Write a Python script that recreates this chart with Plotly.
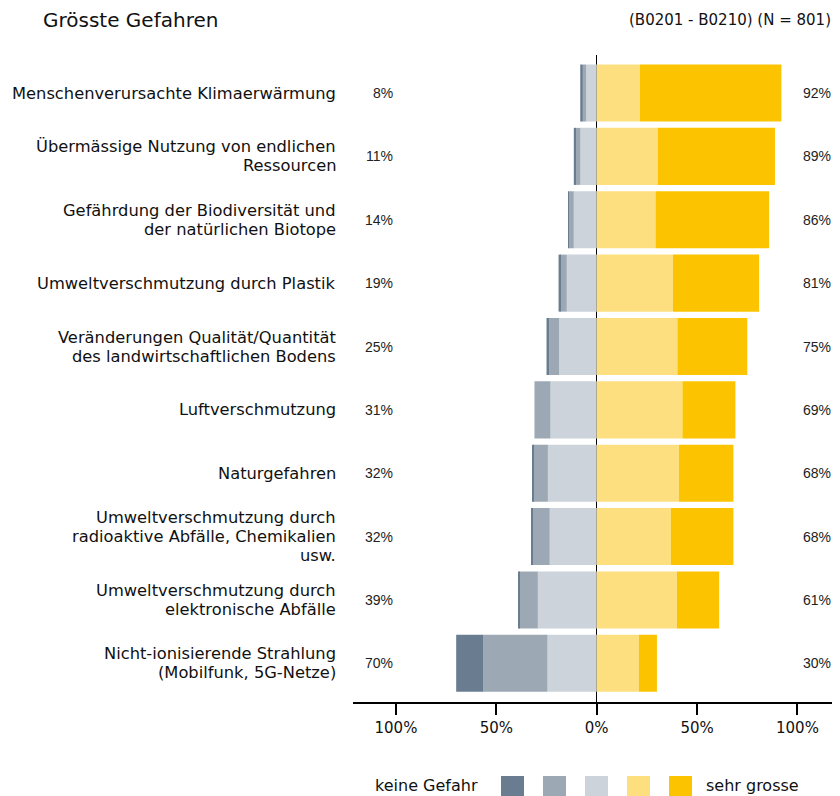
import plotly.graph_objects as go

categories = [
    "Menschenverursachte Klimaerwärmung",
    "Übermässige Nutzung von endlichen<br>Ressourcen",
    "Gefährdung der Biodiversität und<br>der natürlichen Biotope",
    "Umweltverschmutzung durch Plastik",
    "Veränderungen Qualität/Quantität<br>des landwirtschaftlichen Bodens",
    "Luftverschmutzung",
    "Naturgefahren",
    "Umweltverschmutzung durch<br>radioaktive Abfälle, Chemikalien<br>usw.",
    "Umweltverschmutzung durch<br>elektronische Abfälle",
    "Nicht-ionisierende Strahlung<br>(Mobilfunk, 5G-Netze)",
]

# shares in percent
keine = [1.3, 0.6, 0.4, 0.8, 1.3, 0.0, 0.5, 0.6, 0.4, 13.6]      # keine Gefahr
eher_keine = [1.7, 2.7, 2.5, 3.3, 5.0, 8.0, 7.4, 8.4, 9.3, 31.9]
klein = [5.2, 8.1, 11.4, 14.9, 18.7, 23.0, 24.3, 23.4, 29.3, 24.5]
gross = [21.5, 30.4, 29.3, 38.0, 40.2, 42.7, 41.0, 36.9, 40.0, 21.0]
sehr_gross = [70.5, 58.4, 56.6, 42.9, 34.8, 26.4, 27.1, 31.2, 21.0, 9.0]

left_labels = ["8%", "11%", "14%", "19%", "25%", "31%", "32%", "32%", "39%", "70%"]
right_labels = ["92%", "89%", "86%", "81%", "75%", "69%", "68%", "68%", "61%", "30%"]

tick_vals = [-100, -50, 0, 50, 100]
tick_text = ["100%", "50%", "0%", "50%", "100%"]

colors = ["#6a7d90", "#9ca9b5", "#ccd3db", "#fddf80", "#fcc400"]
legend_left = "keine Gefahr"
legend_right = "sehr grosse"

title = "Grösste Gefahren"
subtitle = "(B0201 - B0210) (N = 801)"

FONT = "DejaVu Sans"
OFF = 8  # page body margin
W, H = 840 - OFF, 796 - OFF
L, T = 353 - OFF, 55 - OFF
PR, PB = 838 - OFF, 702 - OFF
R, B = W - PR, H - PB
PW, PH = PR - L, PB - T
LINE = 19


def px_x(p):
    return (p - OFF - L) / PW


def px_y(p):
    return (PB - (p - OFF)) / PH


fig = go.Figure()
neg_series = [(klein, colors[2]), (eher_keine, colors[1]), (keine, colors[0])]
for vals, col in neg_series:
    fig.add_trace(go.Bar(y=categories, x=[-v for v in vals], orientation="h",
                         marker=dict(color=col, line=dict(width=0)),
                         showlegend=False, hoverinfo="skip"))
for vals, col in [(gross, colors[3]), (sehr_gross, colors[4])]:
    fig.add_trace(go.Bar(y=categories, x=vals, orientation="h",
                         marker=dict(color=col, line=dict(width=0)),
                         showlegend=False, hoverinfo="skip"))

annotations = []
for cat, ll, rl in zip(categories, left_labels, right_labels):
    lines = cat.split("<br>")
    n = len(lines)
    for i, line in enumerate(lines):
        annotations.append(dict(xref="paper", yref="y", x=px_x(338), y=cat,
                                yshift=((n - 1) / 2 - i) * LINE,
                                xanchor="right", yanchor="middle", align="right",
                                text=line, showarrow=False,
                                font=dict(family=FONT, size=16.3, color="#111111")))
    annotations.append(dict(xref="paper", yref="y", x=px_x(395), y=cat,
                            xanchor="right", yanchor="middle", text=ll, showarrow=False,
                            font=dict(family="Liberation Sans", size=14, color="#222222")))
    annotations.append(dict(xref="paper", yref="y", x=px_x(801), y=cat,
                            xanchor="left", yanchor="middle", text=rl, showarrow=False,
                            font=dict(family="Liberation Sans", size=14, color="#222222")))

annotations.append(dict(xref="paper", yref="paper", x=px_x(41), y=px_y(20),
                        xanchor="left", yanchor="middle", text=title, showarrow=False,
                        font=dict(family=FONT, size=20, color="#111111")))
annotations.append(dict(xref="paper", yref="paper", x=px_x(833), y=px_y(20),
                        xanchor="right", yanchor="middle", text=subtitle, showarrow=False,
                        font=dict(family=FONT, size=15, color="#111111")))

# legend
annotations.append(dict(xref="paper", yref="paper", x=px_x(373), y=px_y(786),
                        xanchor="left", yanchor="middle", text=legend_left, showarrow=False,
                        font=dict(family=FONT, size=16, color="#111111")))
annotations.append(dict(xref="paper", yref="paper", x=px_x(704), y=px_y(786),
                        xanchor="left", yanchor="middle", text=legend_right, showarrow=False,
                        font=dict(family=FONT, size=16, color="#111111")))
shapes = []
sq_x = [501, 543, 585, 627, 669]
for sx, col in zip(sq_x, colors):
    shapes.append(dict(type="rect", xref="paper", yref="paper",
                       x0=px_x(sx), x1=px_x(sx + 23), y0=px_y(776), y1=px_y(799),
                       fillcolor=col, line=dict(width=0)))

fig.update_layout(
    width=W, height=H,
    margin=dict(l=L, r=R, t=T, b=B, pad=0),
    barmode="relative", bargap=0.1,
    plot_bgcolor="white", paper_bgcolor="white",
    annotations=annotations, shapes=shapes,
    font=dict(family=FONT, color="#111111"),
    xaxis=dict(range=[-121.4, 120.2], tickvals=tick_vals, ticktext=tick_text,
               showgrid=False, zeroline=True, zerolinecolor="black", zerolinewidth=1,
               showline=True, linecolor="black", linewidth=1.5,
               ticks="outside", ticklen=11, tickwidth=1.5, tickcolor="black",
               tickfont=dict(family=FONT, size=15, color="#111111"), fixedrange=True),
    yaxis=dict(range=[9.61, -0.6], showticklabels=False, showgrid=False,
               zeroline=False, showline=False, ticks="", fixedrange=True),
)

fig.write_html("out.html")
